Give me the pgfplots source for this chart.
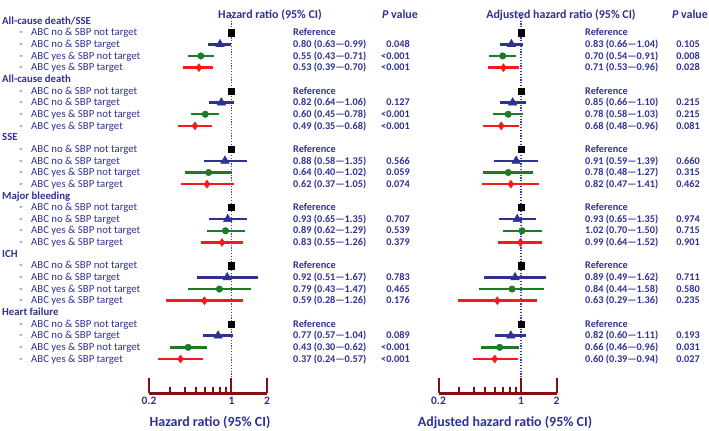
\documentclass[border=0pt]{standalone}
\usepackage{pgfplots}
\pgfplotsset{compat=1.18}
\usepackage{fontspec}
\setmainfont{Carlito}
\definecolor{navyc}{RGB}{46,49,146}
\definecolor{dotc}{RGB}{60,60,190}
\definecolor{greenc}{RGB}{28,122,40}
\definecolor{redc}{RGB}{252,24,24}
\definecolor{maroonc}{RGB}{128,18,18}
\newcommand\rowy[1]{410-11.655*(#1)}
\newcommand\vL[3]{\node[val,anchor=west] at (293,{\rowy{#1}}) {#2};\node[val,anchor=east] at (410,{\rowy{#1}}) {#3};}
\newcommand\vR[3]{\node[val,anchor=west] at (585,{\rowy{#1}}) {#2};\node[val,anchor=east] at (700,{\rowy{#1}}) {#3};}
\newcommand\ci[3]{#1 (#2\textemdash#3)}
% one confidence interval: colour, lower, upper, row
\newcommand\CI[4]{\addplot[#1, line width=2.5bp] coordinates {(#2,-#4) (#3,-#4)};}
\pgfplotsset{
  forestax/.style={
    scale only axis, width=118bp, height=381.5bp, anchor=south west,
    xmin=0.2, xmax=2, ymin=-31.96, ymax=0.772,
    axis y line=none, axis x line*=bottom,
    axis line style={maroonc, line width=2.4bp},
    xtick={0.2,1,2}, xticklabels={0.2,1,2},
    minor xtick={0.3,0.4,0.5,0.6,0.7,0.8,0.9},
    tick align=inside,
    major tick length=15.5bp, minor tick length=6.5bp,
    tick style={maroonc, line width=2bp},
    xticklabel style={font=\bfseries\fontsize{11.5}{12}\selectfont, text=navyc},
    clip=false,
  },
}
\begin{document}
\begin{tikzpicture}[
  lab/.style={font=\fontsize{10.8}{11}\selectfont, text=navyc, inner sep=0pt, text height=0.85em, text depth=0.21em},
  hdr/.style={font=\bfseries\fontsize{10.8}{11}\selectfont, text=navyc, inner sep=0pt, text height=0.85em, text depth=0.21em, anchor=west},
  val/.style={font=\bfseries\fontsize{10.3}{11}\selectfont, text=navyc, inner sep=0pt, text height=0.85em, text depth=0.21em},
  ttl/.style={font=\bfseries\fontsize{12}{13}\selectfont, text=navyc, inner sep=0pt, text height=0.85em, text depth=0.21em},
  xl/.style={font=\bfseries\fontsize{14}{15}\selectfont, text=navyc, inner sep=0pt, text height=0.85em, text depth=0.21em}]
\useasboundingbox (0,0) rectangle (709bp,431bp);

% ---------- left panel: unadjusted ----------
\begin{axis}[xmode=log, forestax, at={(149bp,37.5bp)}]
\addplot[dotc, line width=1.4bp, dash pattern=on 1.3bp off 1.5bp] coordinates {(1,0.515) (1,-30.63)};
\CI{navyc}{0.63}{0.99}{2} \CI{navyc}{0.64}{1.06}{7} \CI{navyc}{0.58}{1.35}{12}
\CI{navyc}{0.65}{1.35}{17} \CI{navyc}{0.51}{1.67}{22} \CI{navyc}{0.57}{1.04}{27}
\CI{greenc}{0.43}{0.71}{3} \CI{greenc}{0.45}{0.78}{8} \CI{greenc}{0.40}{1.02}{13}
\CI{greenc}{0.62}{1.29}{18} \CI{greenc}{0.43}{1.47}{23} \CI{greenc}{0.30}{0.62}{28}
\CI{redc}{0.39}{0.70}{4} \CI{redc}{0.35}{0.68}{9} \CI{redc}{0.37}{1.05}{14}
\CI{redc}{0.55}{1.26}{19} \CI{redc}{0.28}{1.26}{24} \CI{redc}{0.24}{0.57}{29}
\addplot[only marks, mark=square*, mark size=3.1bp, black] coordinates {(1,-1) (1,-6) (1,-11) (1,-16) (1,-21) (1,-26)};
\addplot[only marks, mark=triangle*, mark size=5bp, navyc] coordinates {(0.80,-2) (0.82,-7) (0.88,-12) (0.93,-17) (0.92,-22) (0.77,-27)};
\addplot[only marks, mark=*, mark size=3.3bp, greenc] coordinates {(0.55,-3) (0.60,-8) (0.64,-13) (0.89,-18) (0.79,-23) (0.43,-28)};
\addplot[only marks, mark=diamond*, mark size=4bp, redc] coordinates {(0.53,-4) (0.49,-9) (0.62,-14) (0.83,-19) (0.59,-24) (0.37,-29)};
\end{axis}

% ---------- right panel: adjusted ----------
\begin{axis}[xmode=log, forestax, at={(438.5bp,37.5bp)}]
\addplot[dotc, line width=1.4bp, dash pattern=on 1.3bp off 1.5bp] coordinates {(1,0.515) (1,-30.63)};
\CI{navyc}{0.66}{1.04}{2} \CI{navyc}{0.66}{1.10}{7} \CI{navyc}{0.59}{1.39}{12}
\CI{navyc}{0.65}{1.35}{17} \CI{navyc}{0.49}{1.62}{22} \CI{navyc}{0.60}{1.11}{27}
\CI{greenc}{0.54}{0.91}{3} \CI{greenc}{0.58}{1.03}{8} \CI{greenc}{0.48}{1.27}{13}
\CI{greenc}{0.70}{1.50}{18} \CI{greenc}{0.44}{1.58}{23} \CI{greenc}{0.46}{0.96}{28}
\CI{redc}{0.53}{0.96}{4} \CI{redc}{0.48}{0.96}{9} \CI{redc}{0.47}{1.41}{14}
\CI{redc}{0.64}{1.52}{19} \CI{redc}{0.29}{1.36}{24} \CI{redc}{0.39}{0.94}{29}
\addplot[only marks, mark=square*, mark size=3.1bp, black] coordinates {(1,-1) (1,-6) (1,-11) (1,-16) (1,-21) (1,-26)};
\addplot[only marks, mark=triangle*, mark size=5bp, navyc] coordinates {(0.83,-2) (0.85,-7) (0.91,-12) (0.93,-17) (0.89,-22) (0.82,-27)};
\addplot[only marks, mark=*, mark size=3.3bp, greenc] coordinates {(0.70,-3) (0.78,-8) (0.78,-13) (1.02,-18) (0.84,-23) (0.66,-28)};
\addplot[only marks, mark=diamond*, mark size=4bp, redc] coordinates {(0.71,-4) (0.68,-9) (0.82,-14) (0.99,-19) (0.63,-24) (0.60,-29)};
\end{axis}

\begin{scope}[x=1bp,y=1bp]
% ---------- row labels ----------
\node[hdr] at (2,{\rowy{0}}) {All-cause death/SSE};
\node[hdr] at (2,{\rowy{5}}) {All-cause death};
\node[hdr] at (2,{\rowy{10}}) {SSE};
\node[hdr] at (2,{\rowy{15}}) {Major bleeding};
\node[hdr] at (2,{\rowy{20}}) {ICH};
\node[hdr] at (2,{\rowy{25}}) {Heart failure};
\foreach \g in {0,...,5} {
  \foreach \k/\lbl in {1/ABC no \& SBP not target, 2/ABC no \& SBP target, 3/ABC yes \& SBP not target, 4/ABC yes \& SBP target} {
    \node[lab] at (21,{\rowy{5*\g+\k}}) {-};
    \node[lab, anchor=west] at (31,{\rowy{5*\g+\k}}) {\lbl};
  }
}

% ---------- titles ----------
\node[ttl] at (270,416) {Hazard ratio (95\% CI)};
\node[ttl] at (400,416) {{\itshape P} value};
\node[ttl] at (561,416) {Adjusted hazard ratio (95\% CI)};
\node[ttl] at (690,416) {{\itshape P} value};
\node[xl] at (210,8) {Hazard ratio (95\% CI)};
\node[xl] at (505,8) {Adjusted hazard ratio (95\% CI)};

% ---------- left values ----------
\vL{1}{Reference}{}
\vL{2}{\ci{0.80}{0.63}{0.99}}{0.048}
\vL{3}{\ci{0.55}{0.43}{0.71}}{<0.001}
\vL{4}{\ci{0.53}{0.39}{0.70}}{<0.001}
\vL{6}{Reference}{}
\vL{7}{\ci{0.82}{0.64}{1.06}}{0.127}
\vL{8}{\ci{0.60}{0.45}{0.78}}{<0.001}
\vL{9}{\ci{0.49}{0.35}{0.68}}{<0.001}
\vL{11}{Reference}{}
\vL{12}{\ci{0.88}{0.58}{1.35}}{0.566}
\vL{13}{\ci{0.64}{0.40}{1.02}}{0.059}
\vL{14}{\ci{0.62}{0.37}{1.05}}{0.074}
\vL{16}{Reference}{}
\vL{17}{\ci{0.93}{0.65}{1.35}}{0.707}
\vL{18}{\ci{0.89}{0.62}{1.29}}{0.539}
\vL{19}{\ci{0.83}{0.55}{1.26}}{0.379}
\vL{21}{Reference}{}
\vL{22}{\ci{0.92}{0.51}{1.67}}{0.783}
\vL{23}{\ci{0.79}{0.43}{1.47}}{0.465}
\vL{24}{\ci{0.59}{0.28}{1.26}}{0.176}
\vL{26}{Reference}{}
\vL{27}{\ci{0.77}{0.57}{1.04}}{0.089}
\vL{28}{\ci{0.43}{0.30}{0.62}}{<0.001}
\vL{29}{\ci{0.37}{0.24}{0.57}}{<0.001}

% ---------- right values ----------
\vR{1}{Reference}{}
\vR{2}{\ci{0.83}{0.66}{1.04}}{0.105}
\vR{3}{\ci{0.70}{0.54}{0.91}}{0.008}
\vR{4}{\ci{0.71}{0.53}{0.96}}{0.028}
\vR{6}{Reference}{}
\vR{7}{\ci{0.85}{0.66}{1.10}}{0.215}
\vR{8}{\ci{0.78}{0.58}{1.03}}{0.215}
\vR{9}{\ci{0.68}{0.48}{0.96}}{0.081}
\vR{11}{Reference}{}
\vR{12}{\ci{0.91}{0.59}{1.39}}{0.660}
\vR{13}{\ci{0.78}{0.48}{1.27}}{0.315}
\vR{14}{\ci{0.82}{0.47}{1.41}}{0.462}
\vR{16}{Reference}{}
\vR{17}{\ci{0.93}{0.65}{1.35}}{0.974}
\vR{18}{\ci{1.02}{0.70}{1.50}}{0.715}
\vR{19}{\ci{0.99}{0.64}{1.52}}{0.901}
\vR{21}{Reference}{}
\vR{22}{\ci{0.89}{0.49}{1.62}}{0.711}
\vR{23}{\ci{0.84}{0.44}{1.58}}{0.580}
\vR{24}{\ci{0.63}{0.29}{1.36}}{0.235}
\vR{26}{Reference}{}
\vR{27}{\ci{0.82}{0.60}{1.11}}{0.193}
\vR{28}{\ci{0.66}{0.46}{0.96}}{0.031}
\vR{29}{\ci{0.60}{0.39}{0.94}}{0.027}
\end{scope}
\end{tikzpicture}
\end{document}
